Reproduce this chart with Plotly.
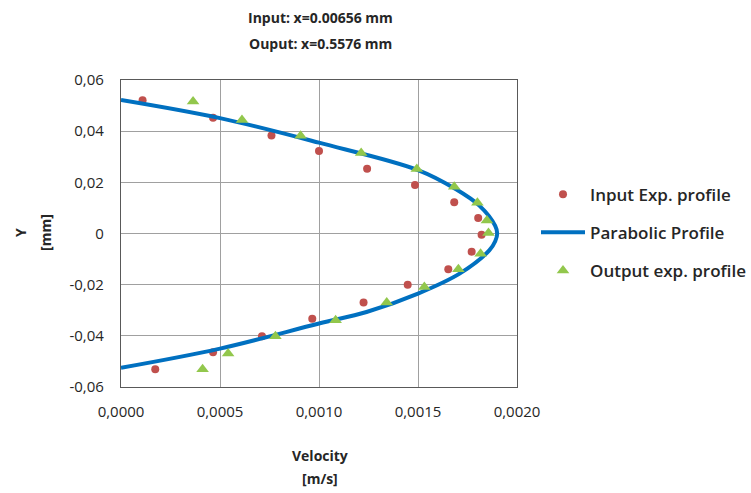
import plotly.graph_objects as go

# Input experimental profile (velocity m/s, Y mm)
input_v = [0.000109, 0.000465, 0.00076, 0.001, 0.001243, 0.001485, 0.001683, 0.001804, 0.001821,
           0.001771, 0.001653, 0.001448, 0.001225, 0.000966, 0.000712, 0.000465, 0.000173]
input_y = [0.0521, 0.0452, 0.0383, 0.0322, 0.0253, 0.0190, 0.0122, 0.0061, -0.0005,
           -0.0071, -0.0140, -0.0200, -0.0270, -0.0333, -0.0402, -0.0464, -0.0531]

# Output experimental profile
output_v = [0.000364, 0.000611, 0.000907, 0.001213, 0.001494, 0.001683, 0.0018, 0.001848, 0.001856,
            0.001816, 0.001704, 0.001532, 0.001342, 0.001084, 0.00078, 0.000541, 0.000412]
output_y = [0.0516, 0.0444, 0.0382, 0.0315, 0.0252, 0.0183, 0.0120, 0.0051, 0.0002,
            -0.0079, -0.0140, -0.0209, -0.0270, -0.0339, -0.0402, -0.0469, -0.0531]

# Parabolic profile
para_v = [0.0, 0.0005, 0.0010, 0.0015, 0.00169, 0.00181, 0.00189, 0.0019,
          0.00189, 0.00186, 0.00171, 0.0015, 0.00124, 0.0010, 0.0005, 0.0]
para_y = [0.0522, 0.0451, 0.0355, 0.0248, 0.0174, 0.0109, 0.0030, 0.0,
          -0.0030, -0.0066, -0.0157, -0.0235, -0.0307, -0.0352, -0.0450, -0.0525]

x_ticks = [0.0, 0.0005, 0.0010, 0.0015, 0.0020]
x_labels = ["0,0000", "0,0005", "0,0010", "0,0015", "0,0020"]
y_ticks = [0.06, 0.04, 0.02, 0.0, -0.02, -0.04, -0.06]
y_labels = ["0,06", "0,04", "0,02", "0", "-0,02", "-0,04", "-0,06"]

title_lines = ["Input: x=0.00656 mm", "Ouput: x=0.5576 mm"]
x_title_lines = ["Velocity", "[m/s]"]
y_title_lines = ["Y", "[mm]"]

FONT = "Open Sans"
TXT = "#262626"

# plot area in pixels
L, R, T, B = 121, 517, 80, 387
W, H = 751, 493


def px_x(px):
    return (px - L) / (R - L)


def px_y(py):
    return (B - py) / (B - T)


fig = go.Figure()
fig.add_trace(go.Scatter(
    x=input_v, y=input_y, mode="markers", name="Input Exp. profile",
    marker=dict(symbol="circle", size=8, color="#C0504D"),
    legendgroup="a"))
fig.add_trace(go.Scatter(
    x=para_v, y=para_y, mode="lines", name="Parabolic Profile",
    line=dict(color="#0070C0", width=4, shape="spline", smoothing=1.0),
    legendgroup="b"))
fig.add_trace(go.Scatter(
    x=output_v, y=output_y, mode="markers", name="Output exp. profile",
    marker=dict(symbol="triangle-up", size=11, color="#92C74C"),
    legendgroup="c"))

ann = []
for text, py in zip(title_lines, [18, 44]):
    ann.append(dict(text="<b>%s</b>" % text, x=px_x(320), y=px_y(py), xref="paper", yref="paper",
                    xanchor="center", yanchor="middle", showarrow=False,
                    font=dict(family=FONT, size=14, color=TXT)))
for text, py in zip(x_title_lines, [455, 478]):
    ann.append(dict(text="<b>%s</b>" % text, x=px_x(320), y=px_y(py), xref="paper", yref="paper",
                    xanchor="center", yanchor="middle", showarrow=False,
                    font=dict(family=FONT, size=14, color=TXT)))
for text, pxx in zip(y_title_lines, [20, 45]):
    ann.append(dict(text="<b>%s</b>" % text, x=px_x(pxx), y=px_y(233), xref="paper", yref="paper",
                    xanchor="center", yanchor="middle", showarrow=False, textangle=-90,
                    font=dict(family=FONT, size=14, color=TXT)))

fig.update_layout(
    width=W, height=H,
    margin=dict(l=L, r=W - R, t=T, b=H - B, autoexpand=False),
    paper_bgcolor="white", plot_bgcolor="white",
    font=dict(family=FONT, size=14, color=TXT),
    annotations=ann,
    showlegend=True,
    legend=dict(x=px_x(536), xanchor="left", y=0.685, yanchor="top",
                font=dict(family=FONT, size=17, color=TXT, weight=600),
                tracegroupgap=13, itemwidth=44, bgcolor="rgba(0,0,0,0)"),
    xaxis=dict(range=[0, 0.002], tickvals=x_ticks, ticktext=x_labels,
               showgrid=True, gridcolor="#A0A0A0", gridwidth=1.3,
               showline=True, linecolor="#595959", linewidth=1.3, mirror=True,
               zeroline=False, ticks="", ticklabelstandoff=11,
               tickfont=dict(size=15, color=TXT)),
    yaxis=dict(range=[-0.06, 0.06], tickvals=y_ticks, ticktext=y_labels,
               showgrid=True, gridcolor="#A0A0A0", gridwidth=1.3,
               showline=True, linecolor="#595959", linewidth=1.3, mirror=True,
               zeroline=False, ticks="", ticklabelstandoff=13,
               tickfont=dict(size=15, color=TXT)),
)

fig.write_html("out.html")
